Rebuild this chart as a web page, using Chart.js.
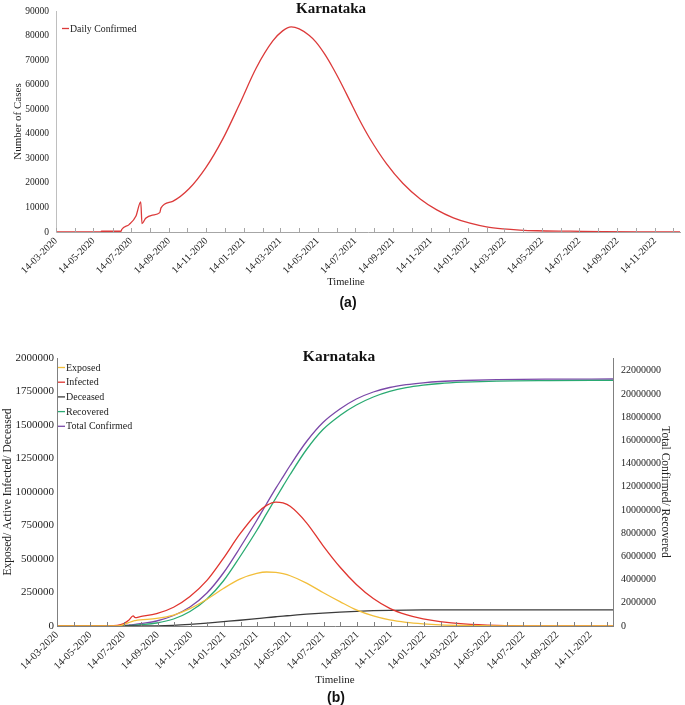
<!DOCTYPE html>
<html><head><meta charset="utf-8">
<script src="https://cdn.jsdelivr.net/npm/chart.js@4.4.1/dist/chart.umd.min.js"></script>
<style>
html,body{margin:0;padding:0;background:#fff;}
#wrap{position:relative;width:685px;height:705px;overflow:hidden;background:#fff;}
.abs{position:absolute;white-space:nowrap;text-align:center;color:#111;}
.ttl{font-family:"Liberation Serif",serif;font-weight:bold;font-size:15px;line-height:15px;}
.lbl{font-family:"Liberation Sans",sans-serif;font-weight:bold;font-size:14px;line-height:16px;}
.axt{font-family:"Liberation Serif",serif;font-size:10.5px;line-height:12px;color:#222;}
canvas{position:absolute;left:0;}
</style></head><body>
<div id="wrap">
<canvas id="ca" width="685" height="292" style="top:0px"></canvas>
<canvas id="cb" width="685" height="370" style="top:330px"></canvas>
<div class="abs ttl" style="left:0;width:662px;top:1px">Karnataka</div>
<div class="abs axt" style="left:0;width:692px;top:276px">Timeline</div>
<div class="abs lbl" style="left:0;width:696px;top:294px">(a)</div>
<div class="abs ttl" style="left:0;width:678px;top:348px;font-size:15.5px;line-height:15.5px">Karnataka</div>
<div class="abs lbl" style="left:0;width:672px;top:689px">(b)</div>
</div>
<script>
// ---------- data (day offsets counted from 14-03-2020) ----------
const xTickLabels = ['14-03-2020','14-05-2020','14-07-2020','14-09-2020','14-11-2020',
  '14-01-2021','14-03-2021','14-05-2021','14-07-2021','14-09-2021','14-11-2021',
  '14-01-2022','14-03-2022','14-05-2022','14-07-2022','14-09-2022','14-11-2022'];
const dayMax = 1016;
const rightAxisTicks = [0, 2000000, 4000000, 6000000, 8000000, 10000000, 12000000, 14000000, 16000000, 18000000, 20000000, 22000000];

// chart (a): Daily Confirmed
const dailyDays = [0, 73, 74, 106, 107, 119, 130, 138, 140, 146, 157, 169, 171, 190, 217, 244, 271, 298, 326, 353, 369, 383, 396, 412, 423, 437, 450, 464, 478, 494, 510, 538, 565, 593, 620, 647, 674, 701, 728, 755, 783, 837, 891, 950, 1016];
const dailyConfirmed = [0, 0, 300, 300, 1000, 3000, 6400, 12300, 3400, 5600, 6900, 7900, 9800, 12500, 17700, 26200, 37600, 51600, 66800, 77800, 81900, 83500, 82700, 80100, 77400, 72600, 67200, 60700, 53700, 45700, 38500, 27860, 19760, 13460, 9000, 5760, 3570, 2085, 1275, 790, 510, 330, 140, 50, 20];

// chart (b): model compartments
const bDays = [0, 75, 110, 122, 131, 139, 143, 152, 182, 213, 243, 274, 304, 334, 365, 383, 400, 413, 426, 456, 486, 517, 547, 578, 608, 638, 669, 700, 743, 804, 900, 1016];
const exposed = [0, 0, 0, 10000, 25000, 37000, 40000, 45000, 57000, 82000, 130000, 200000, 280000, 350000, 392000, 403000, 400000, 390000, 375000, 320000, 250000, 182000, 120000, 75000, 45000, 27000, 16000, 9000, 4000, 1000, 200, 0];
const infected = [0, 0, 5000, 18000, 42000, 75000, 63000, 70000, 92000, 140000, 220000, 340000, 505000, 685000, 840000, 900000, 925000, 918000, 893000, 770000, 600000, 440000, 310000, 205000, 132000, 85000, 53000, 33000, 16000, 5000, 1000, 0];
const deceased = [0, 0, 0, 0, 0, 0, 0, 200, 1000, 5000, 12000, 21000, 32000, 43000, 55000, 62000, 69000, 74000, 78000, 88000, 96000, 103000, 109000, 114000, 117000, 119000, 120000, 120000, 120000, 120000, 120000, 120000];
const recovered = [0, 0, 5000, 20000, 40000, 60000, 75000, 110000, 259000, 603000, 1250000, 2327000, 3879000, 5947000, 8232000, 9680000, 11030000, 12050000, 13058000, 15213000, 16937000, 18144000, 19049000, 19738000, 20214000, 20541000, 20755000, 20902000, 21014000, 21109000, 21152000, 21170000];
const totalConfirmed = [0, 0, 20000, 50000, 80000, 110000, 130000, 200000, 431000, 905000, 1638000, 2844000, 4568000, 6723000, 9093000, 10540000, 11880000, 12860000, 13834000, 15903000, 17540000, 18704000, 19566000, 20169000, 20557000, 20798000, 20962000, 21074000, 21161000, 21230000, 21273000, 21290000];

// ---------- helpers ----------
const SERIF = "'Liberation Serif', 'Times New Roman', serif";
const T0 = Date.UTC(2020, 2, 14);
const dayOf = s => { const [d, m, y] = s.split('-').map(Number); return Math.round((Date.UTC(y, m - 1, d) - T0) / 864e5); };
const labelByDay = new Map(xTickLabels.map(l => [dayOf(l), l]));
const monthTicks = [];
for (let k = 0; k < 40; k++) {
  const v = Math.round((Date.UTC(2020, 2 + k, 14) - T0) / 864e5);
  if (v <= dayMax) monthTicks.push(v);
}
const pts = (xs, ys) => xs.map((x, i) => ({x, y: ys[i]}));

const innerTicks = {
  id: 'innerTicks',
  afterDraw(chart, args, opts) {
    const s = chart.scales.x, ctx = chart.ctx;
    ctx.save();
    ctx.strokeStyle = opts.color; ctx.lineWidth = 1;
    s.ticks.forEach(t => {
      const px = Math.round(s.getPixelForValue(t.value)) + 0.5;
      ctx.beginPath(); ctx.moveTo(px, s.top); ctx.lineTo(px, s.top - opts.len); ctx.stroke();
    });
    ctx.restore();
  }
};
const insideLegend = {
  id: 'insideLegend',
  afterDatasetsDraw(chart, args, opts) {
    const ctx = chart.ctx;
    ctx.save();
    ctx.font = opts.size + 'px ' + SERIF;
    ctx.textBaseline = 'middle';
    chart.data.datasets.forEach((ds, i) => {
      const y = opts.y + i * opts.dy;
      ctx.strokeStyle = ds.borderColor; ctx.lineWidth = 1.3;
      ctx.beginPath(); ctx.moveTo(opts.x, y + 0.5); ctx.lineTo(opts.x + opts.len, y + 0.5); ctx.stroke();
      ctx.fillStyle = '#222';
      ctx.fillText(ds.label, opts.x + opts.len + 1, y + 1);
    });
    ctx.restore();
  }
};

function xAxis(size, borderColor, height, titleOpts) {
  return {
    type: 'linear', min: 0, max: dayMax, offset: false,
    afterBuildTicks: s => { s.ticks = monthTicks.map(v => ({value: v})); },
    ticks: {autoSkip: false, minRotation: 45, maxRotation: 45, padding: 3,
      font: {family: SERIF, size}, color: '#222',
      callback: v => labelByDay.get(v) || ''},
    grid: {display: false, drawTicks: false},
    border: {display: true, color: borderColor, width: 1},
    title: titleOpts || {display: false},
    afterFit: s => { s.height = height; s.paddingLeft = 0; s.paddingRight = 0; }
  };
}

Chart.defaults.font.family = SERIF;
Chart.defaults.color = '#222';

// ---------- chart (a) ----------
new Chart(document.getElementById('ca'), {
  type: 'line',
  data: {datasets: [{label: 'Daily Confirmed', data: pts(dailyDays, dailyConfirmed),
    borderColor: '#DC3A3A', borderWidth: 1.3, pointRadius: 0, cubicInterpolationMode: 'monotone', fill: false}]},
  options: {
    responsive: false, animation: false, events: [],
    layout: {padding: {top: 11, right: 5, left: 0, bottom: 0}},
    plugins: {legend: {display: false}, tooltip: {enabled: false},
      insideLegend: {x: 62, y: 28, dy: 15, len: 7, size: 9.8},
      innerTicks: {color: '#A6A6A6', len: 4}},
    scales: {
      x: xAxis(10, '#A6A6A6', 60),
      y: {min: 0, max: 90000,
        ticks: {stepSize: 10000, font: {family: SERIF, size: 9.5}, color: '#222', padding: 7, callback: v => String(v)},
        grid: {display: false, drawTicks: false},
        border: {display: true, color: '#BFBFBF'},
        title: {display: true, text: 'Number of Cases', font: {family: SERIF, size: 11}, color: '#222', padding: {top: 12, bottom: 0}},
        afterFit: s => { s.width = 56; s.paddingTop = 0; s.paddingBottom = 0; }}
    }
  },
  plugins: [innerTicks, insideLegend]
});

// ---------- chart (b) ----------
const ds = (label, data, color, axis) => ({label, data: pts(bDays, data), yAxisID: axis,
  borderColor: color, borderWidth: 1.3, pointRadius: 0, cubicInterpolationMode: 'monotone', fill: false});
new Chart(document.getElementById('cb'), {
  type: 'line',
  data: {datasets: [
    ds('Exposed', exposed, '#F2BE3A', 'y'),
    ds('Infected', infected, '#E0352F', 'y'),
    ds('Deceased', deceased, '#3C3C3C', 'y'),
    ds('Recovered', recovered, '#2AAA72', 'y2'),
    ds('Total Confirmed', totalConfirmed, '#7A48A8', 'y2')
  ]},
  options: {
    responsive: false, animation: false, events: [],
    layout: {padding: {top: 28, right: 0, left: 0, bottom: 0}},
    plugins: {legend: {display: false}, tooltip: {enabled: false},
      insideLegend: {x: 58, y: 37, dy: 14.7, len: 7, size: 10},
      innerTicks: {color: '#808080', len: 4}},
    scales: {
      x: xAxis(10.5, '#808080', 74, {display: true, text: 'Timeline', font: {family: SERIF, size: 11}, color: '#222', padding: {top: 0, bottom: 13}}),
      y: {position: 'left', min: 0, max: 2000000,
        ticks: {stepSize: 250000, font: {family: SERIF, size: 11}, color: '#222', padding: 3, callback: v => String(v)},
        grid: {display: false, drawTicks: false},
        border: {display: true, color: '#808080'},
        title: {display: true, text: 'Exposed/ Active Infected/ Deceased', font: {family: SERIF, size: 11.5}, color: '#222', padding: {top: 1, bottom: 0}},
        afterFit: s => { s.width = 57; s.paddingTop = 0; s.paddingBottom = 0; }},
      y2: {position: 'right', min: 0, max: 23100000,
        afterBuildTicks: s => { s.ticks = rightAxisTicks.map(v => ({value: v})); },
        ticks: {autoSkip: false, font: {family: SERIF, size: 10}, color: '#222', padding: 8, callback: v => String(v)},
        grid: {display: false, drawTicks: false},
        border: {display: true, color: '#808080'},
        title: {display: true, text: 'Total Confirmed/ Recovered', font: {family: SERIF, size: 11.5}, color: '#222', padding: {top: 13, bottom: 0}},
        afterFit: s => { s.width = 72; s.paddingTop = 0; s.paddingBottom = 0; }}
    }
  },
  plugins: [innerTicks, insideLegend]
});
</script>
</body></html>
